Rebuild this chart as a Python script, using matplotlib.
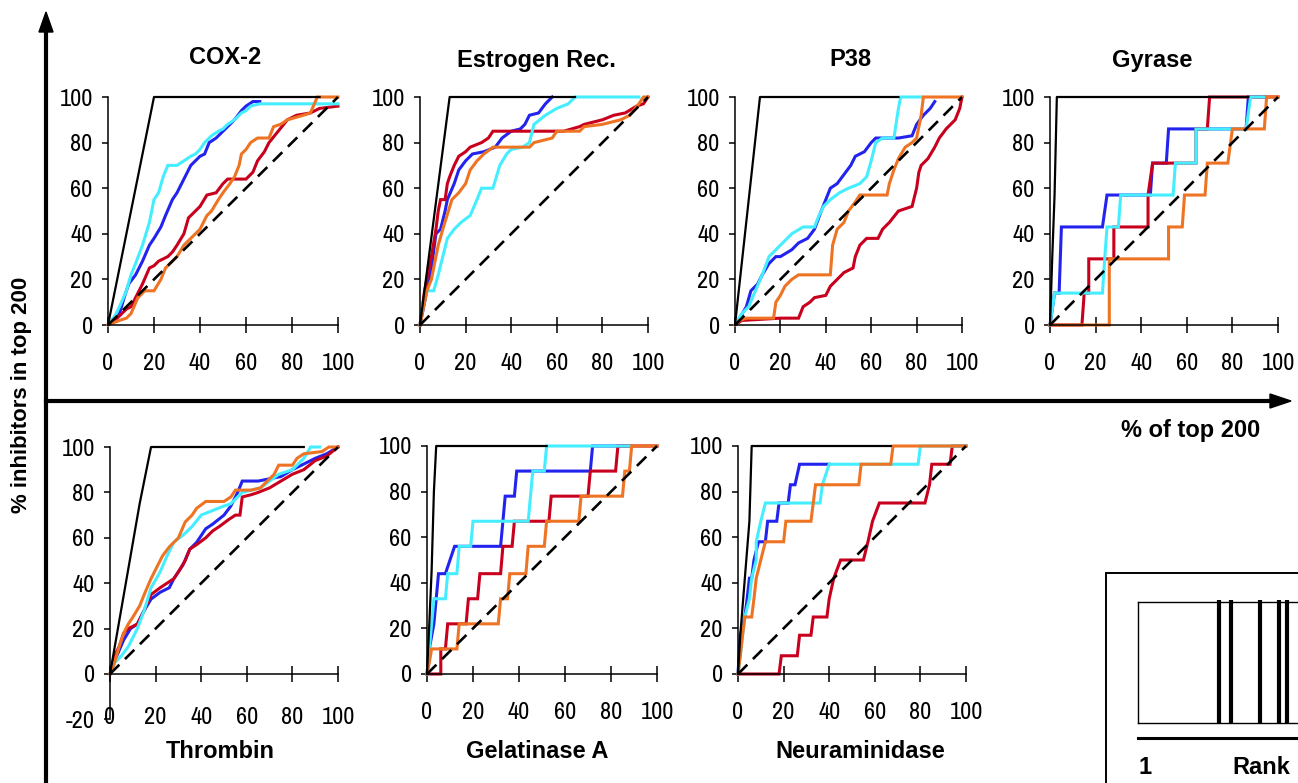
import matplotlib
matplotlib.use("Agg")
import matplotlib.pyplot as plt
from matplotlib import font_manager
from matplotlib.lines import Line2D
from matplotlib.patches import Polygon, Rectangle

## VALUES (x = % of top 200, y = % inhibitors)

cox2_ideal = [(0, 0), (20, 100), (92, 100)]
cox2_blue = [(0, 0), (3, 3), (5, 5), (7, 12), (9, 18), (12, 22), (15, 28), (18, 35), (20, 38), (23, 43),
             (25, 48), (28, 55), (30, 58), (32, 62), (34, 66), (36, 70), (38, 72), (40, 74), (42, 75),
             (44, 80), (47, 82), (50, 85), (53, 88), (55, 90), (58, 94), (60, 96), (63, 98), (66, 98)]
cox2_cyan = [(0, 0), (3, 4), (5, 8), (8, 15), (10, 22), (12, 27), (15, 35), (18, 45), (20, 55), (22, 58),
             (24, 65), (26, 70), (30, 70), (33, 72), (36, 74), (38, 75), (40, 77), (42, 80), (45, 83),
             (48, 85), (50, 86), (52, 88), (55, 90), (58, 93), (60, 94), (62, 96), (66, 97), (100, 97)]
cox2_red = [(0, 0), (4, 3), (8, 7), (10, 8), (12, 12), (15, 18), (18, 25), (20, 26), (22, 28), (26, 30),
            (28, 32), (30, 35), (33, 40), (35, 47), (38, 50), (40, 52), (43, 57), (47, 58), (50, 62),
            (52, 64), (60, 64), (63, 67), (65, 72), (68, 76), (70, 80), (74, 85), (78, 90), (82, 92),
            (88, 93), (92, 95), (100, 96)]
cox2_orange = [(0, 0), (5, 2), (8, 3), (10, 5), (13, 12), (16, 15), (20, 15), (23, 20), (25, 25), (30, 30),
               (33, 35), (36, 38), (40, 42), (43, 48), (45, 50), (48, 55), (50, 58), (53, 62), (55, 65),
               (57, 70), (58, 75), (60, 77), (62, 80), (65, 82), (70, 82), (72, 87), (75, 88), (78, 90),
               (85, 92), (88, 93), (91, 100), (100, 100)]

er_ideal = [(0, 0), (13, 100), (68, 100)]
er_blue = [(0, 0), (3, 15), (5, 25), (7, 40), (9, 42), (11, 50), (12, 55), (15, 62), (17, 68), (20, 72),
           (23, 75), (28, 76), (33, 78), (36, 82), (40, 85), (44, 86), (46, 88), (48, 92), (52, 93),
           (55, 97), (58, 100)]
er_cyan = [(0, 0), (1, 8), (3, 15), (6, 15), (8, 22), (10, 30), (12, 38), (15, 42), (18, 45), (22, 48),
           (25, 55), (27, 60), (32, 60), (35, 70), (38, 75), (40, 77), (45, 78), (48, 80), (50, 88),
           (55, 92), (60, 95), (65, 97), (68, 100), (96, 100)]
er_red = [(0, 0), (2, 15), (5, 30), (7, 42), (8, 50), (9, 55), (11, 55), (12, 62), (13, 65), (15, 70),
          (17, 74), (20, 76), (22, 78), (27, 80), (30, 82), (32, 85), (45, 85), (60, 85), (63, 85),
          (70, 87), (72, 88), (80, 90), (85, 92), (90, 93), (95, 96), (98, 97), (100, 100)]
er_orange = [(0, 0), (3, 15), (5, 20), (8, 35), (10, 42), (14, 55), (17, 58), (20, 62), (22, 68), (25, 72),
             (28, 75), (32, 78), (48, 78), (50, 80), (58, 82), (60, 85), (70, 85), (72, 87), (80, 88),
             (88, 90), (92, 92), (96, 97), (98, 100), (100, 100)]

p38_ideal = [(0, 0), (11, 100), (72, 100)]
p38_blue = [(0, 0), (2, 3), (5, 8), (7, 15), (10, 18), (12, 22), (15, 27), (18, 30), (20, 30), (25, 33),
            (28, 36), (32, 38), (35, 42), (38, 50), (40, 55), (42, 60), (45, 62), (48, 66), (51, 70),
            (53, 74), (57, 76), (60, 80), (62, 82), (72, 82), (78, 83), (80, 88), (83, 92), (86, 95),
            (88, 98)]
p38_cyan = [(0, 0), (3, 5), (6, 8), (9, 15), (12, 22), (15, 30), (20, 35), (23, 38), (25, 40), (30, 43),
            (35, 43), (37, 48), (39, 52), (42, 55), (46, 58), (50, 60), (55, 62), (58, 65), (60, 72),
            (62, 80), (65, 82), (70, 82), (72, 95), (73, 100), (82, 100)]
p38_red = [(0, 0), (3, 2), (20, 3), (28, 3), (30, 8), (33, 10), (35, 12), (40, 13), (42, 17), (45, 20),
           (48, 23), (52, 25), (53, 30), (55, 35), (58, 38), (63, 38), (65, 42), (68, 45), (72, 50),
           (78, 52), (80, 60), (81, 67), (82, 70), (85, 73), (88, 78), (90, 82), (93, 86), (95, 88),
           (97, 90), (99, 95), (100, 100)]
p38_orange = [(0, 0), (2, 2), (5, 3), (17, 3), (18, 10), (20, 13), (22, 17), (25, 20), (28, 22), (42, 22),
              (43, 35), (45, 42), (48, 45), (50, 50), (53, 54), (55, 57), (67, 57), (68, 62), (70, 68),
              (72, 73), (75, 78), (78, 80), (80, 82), (82, 92), (83, 100), (100, 100)]

gy_ideal = [(0, 0), (1, 30), (2, 57), (3, 100), (87, 100)]
gy_blue = [(0, 0), (2, 14), (4, 14), (5, 43), (23, 43), (25, 57), (44, 57), (45, 71), (51, 71), (52, 86),
           (86, 86), (87, 100), (94, 100)]
gy_cyan = [(0, 0), (2, 14), (23, 14), (24, 29), (25, 43), (30, 43), (31, 57), (54, 57), (55, 71), (64, 71),
           (64, 86), (86, 86), (88, 100), (94, 100)]
gy_red = [(0, 0), (14, 0), (15, 14), (17, 14), (17, 29), (28, 29), (28, 43), (43, 43), (43, 57), (45, 71),
          (64, 71), (64, 86), (69, 86), (70, 100), (100, 100)]
gy_orange = [(0, 0), (26, 0), (26, 29), (52, 29), (52, 43), (58, 43), (59, 57), (68, 57), (69, 71), (78, 71),
             (80, 86), (94, 86), (95, 100), (100, 100)]

th_ideal = [(0, 0), (13, 75), (18, 100), (85, 100)]
th_blue = [(0, 0), (3, 8), (6, 15), (9, 20), (12, 22), (15, 28), (18, 33), (22, 36), (26, 38), (28, 42),
           (32, 48), (35, 55), (38, 58), (42, 64), (45, 66), (50, 70), (53, 74), (56, 80), (58, 85),
           (65, 85), (70, 86), (75, 87), (80, 90), (86, 93), (90, 95), (95, 97), (100, 100)]
th_cyan = [(0, 0), (2, 5), (5, 8), (8, 12), (12, 20), (15, 28), (18, 38), (22, 45), (25, 52), (28, 58),
           (33, 62), (36, 65), (40, 70), (45, 72), (50, 74), (53, 75), (58, 80), (62, 81), (66, 82),
           (70, 85), (74, 88), (80, 90), (85, 95), (88, 100), (92, 100)]
th_red = [(0, 0), (2, 8), (4, 12), (6, 18), (8, 20), (12, 22), (15, 28), (18, 35), (22, 38), (25, 40),
          (28, 42), (30, 45), (33, 50), (35, 55), (38, 57), (42, 60), (45, 63), (48, 65), (52, 68),
          (55, 70), (57, 70), (58, 78), (62, 79), (65, 80), (70, 82), (75, 85), (80, 88), (85, 90),
          (90, 94), (95, 96), (100, 100)]
th_orange = [(0, 0), (2, 5), (4, 12), (6, 18), (8, 22), (10, 25), (13, 30), (15, 35), (18, 42), (20, 46),
             (23, 52), (26, 56), (30, 60), (33, 67), (36, 70), (38, 73), (42, 76), (50, 76), (53, 78),
             (55, 81), (62, 81), (66, 82), (68, 84), (72, 88), (74, 92), (80, 92), (82, 95), (85, 97),
             (93, 98), (96, 100), (100, 100)]

ga_ideal = [(0, 0), (1, 22), (2, 45), (3, 80), (4, 100), (52, 100)]
ga_blue = [(0, 0), (1, 11), (3, 22), (4, 33), (5, 44), (8, 44), (10, 50), (12, 56), (32, 56), (33, 67),
           (34, 78), (38, 78), (39, 89), (71, 89), (72, 100), (88, 100)]
ga_cyan = [(0, 0), (1, 11), (3, 33), (8, 33), (9, 44), (13, 44), (14, 56), (19, 56), (20, 67), (44, 67),
           (45, 78), (46, 89), (51, 89), (52, 100), (88, 100)]
ga_red = [(0, 0), (6, 0), (6, 11), (8, 11), (9, 22), (17, 22), (18, 33), (22, 33), (23, 44), (32, 44),
          (33, 56), (37, 56), (38, 67), (53, 67), (54, 78), (70, 78), (71, 89), (82, 89), (83, 100), (100, 100)]
ga_orange = [(0, 0), (1, 5), (2, 11), (13, 11), (14, 22), (31, 22), (32, 33), (35, 33), (36, 44), (43, 44),
             (44, 56), (51, 56), (52, 67), (66, 67), (67, 78), (85, 78), (86, 89), (88, 89), (89, 100), (100, 100)]

nm_ideal = [(0, 0), (1, 17), (3, 42), (5, 67), (6, 100), (67, 100)]
nm_blue = [(0, 0), (1, 17), (3, 25), (4, 33), (5, 42), (6, 42), (7, 50), (9, 58), (12, 58), (13, 67),
           (17, 67), (18, 75), (22, 75), (23, 83), (25, 83), (27, 92), (40, 92)]
nm_cyan = [(0, 0), (1, 8), (2, 17), (3, 25), (5, 33), (6, 42), (8, 50), (8, 58), (10, 67), (12, 75),
           (36, 75), (37, 83), (40, 92), (79, 92), (80, 100), (100, 100)]
nm_red = [(0, 0), (18, 0), (19, 8), (26, 8), (27, 17), (32, 17), (33, 25), (39, 25), (40, 33), (42, 42),
          (45, 50), (55, 50), (57, 58), (59, 67), (62, 75), (82, 75), (84, 83), (85, 92), (93, 92),
          (94, 100), (100, 100)]
nm_orange = [(0, 0), (1, 8), (2, 17), (3, 25), (6, 25), (7, 33), (8, 42), (10, 50), (12, 58), (20, 58),
             (21, 67), (32, 67), (34, 83), (53, 83), (54, 92), (67, 92), (68, 100), (100, 100)]

random_line = [(0, 0), (100, 100)]
ticks = [0, 20, 40, 60, 80, 100]
thrombin_yticks = [-20, 0, 20, 40, 60, 80, 100]
rank_hits = [63, 72, 94, 109, 115]   # barcode positions in the rank inset

## COLOURS / FONTS
BLUE, CYAN, RED, ORANGE = "#2323ee", "#44eeff", "#c8001e", "#ee7424"
plt.rcParams["axes.unicode_minus"] = False

names = sorted({f.name for f in font_manager.fontManager.ttflist})
narrow_cands = [n for n in names if ("Narrow" in n or "Condensed" in n) and "Mono" not in n
                and "Serif" not in n]
bold = "Liberation Sans" if "Liberation Sans" in names else "DejaVu Sans"
if narrow_cands:
    narrow, num_size = narrow_cands[0], 17.5
else:
    narrow, num_size = bold, 15

W, H = 1298, 783
fig = plt.figure(figsize=(W / 100, H / 100), dpi=100)


def fx(x):
    return x / W


def fy(y):
    return 1 - y / H


def panel(x0, x100, y100, y0, curves, ideal, thrombin=False):
    # axes placed from pixel positions of the 0 and 100 marks
    sy = (y0 - y100) / 100.0
    ymin = -20 if thrombin else 0
    bottom = y0 - ymin * sy
    ax = fig.add_axes([fx(x0), fy(bottom), (x100 - x0) / W, (bottom - y100) / H])
    for pts, col in zip(curves, [BLUE, RED, CYAN, ORANGE]):
        ax.plot([p[0] for p in pts], [p[1] for p in pts], color=col, lw=2.2, clip_on=False,
                solid_joinstyle="miter")
    ax.plot([p[0] for p in ideal], [p[1] for p in ideal], color="black", lw=1.6, clip_on=False)
    ax.plot([p[0] for p in random_line], [p[1] for p in random_line], color="black", lw=1.9,
            dashes=(5, 3), clip_on=False)
    ax.set_xlim(0, 100)
    ax.set_ylim(ymin, 100)
    ax.set_xticks(ticks)
    ax.set_yticks(thrombin_yticks if thrombin else ticks)
    ax.spines["top"].set_visible(False)
    ax.spines["right"].set_visible(False)
    for s in ["left", "bottom"]:
        ax.spines[s].set_linewidth(1.1)
    ax.tick_params(axis="y", direction="out", length=4.5, width=1.1, pad=6.5, labelsize=num_size)
    ax.tick_params(axis="x", direction="inout", length=11, width=1.1, pad=15, labelsize=num_size)
    if thrombin:
        ax.spines["bottom"].set_position(("data", 0))
        ax.tick_params(axis="x", pad=18)
    for lab in ax.get_xticklabels() + ax.get_yticklabels():
        lab.set_family(narrow)
    ax.patch.set_alpha(0)
    return ax


panel(108, 338, 97, 325, [cox2_blue, cox2_red, cox2_cyan, cox2_orange], cox2_ideal)
panel(420, 648, 97, 325, [er_blue, er_red, er_cyan, er_orange], er_ideal)
panel(735, 962, 97, 325, [p38_blue, p38_red, p38_cyan, p38_orange], p38_ideal)
panel(1050, 1278, 97, 325, [gy_blue, gy_red, gy_cyan, gy_orange], gy_ideal)
panel(110, 338, 447, 674, [th_blue, th_red, th_cyan, th_orange], th_ideal, thrombin=True)
panel(427, 657, 446, 674, [ga_blue, ga_red, ga_cyan, ga_orange], ga_ideal)
panel(738, 966, 446, 674, [nm_blue, nm_red, nm_cyan, nm_orange], nm_ideal)

# panel names
tkw = dict(fontsize=17, fontweight="bold", family=bold, ha="center", va="center")
fig.text(fx(225), fy(58), "COX-2", **tkw)
fig.text(fx(536), fy(60), "Estrogen Rec.", **tkw)
fig.text(fx(850), fy(60), "P38", **tkw)
fig.text(fx(1152), fy(60), "Gyrase", **tkw)
fig.text(fx(220), fy(752), "Thrombin", **tkw)
fig.text(fx(537), fy(752), "Gelatinase A", **tkw)
fig.text(fx(860), fy(752), "Neuraminidase", **tkw)
fig.text(fx(1191), fy(430), "% of top 200", **tkw)
fig.text(fx(22), fy(395), "% inhibitors in top 200", rotation=90, **dict(tkw, fontsize=16))

# big axis arrows
fig.add_artist(Line2D([fx(46), fx(46)], [fy(790), fy(28)], color="black", lw=3))
fig.add_artist(Polygon([(fx(46), fy(12)), (fx(39), fy(32)), (fx(53), fy(32))], closed=True,
                       color="black", transform=fig.transFigure))
fig.add_artist(Line2D([fx(46), fx(1274)], [fy(401), fy(401)], color="black", lw=3))
fig.add_artist(Polygon([(fx(1291), fy(401)), (fx(1270), fy(394)), (fx(1270), fy(408))], closed=True,
                       color="black", transform=fig.transFigure))

# rank barcode inset (cut by the right edge)
fig.add_artist(Rectangle((fx(1106), fy(800)), fx(300), (800 - 573) / H, fill=False, lw=1.4,
                         edgecolor="black", transform=fig.transFigure))
bx = fig.add_axes([fx(1138), fy(723), fx(260), (723 - 602) / H])
bx.set_xlim(1, 200)
bx.set_ylim(0, 1)
bx.vlines(rank_hits, 0, 1.02, color="black", lw=3, clip_on=False)
bx.set_xticks([])
bx.set_yticks([])
for s in bx.spines.values():
    s.set_linewidth(1.0)
fig.add_artist(Line2D([fx(1138), fx(1400)], [fy(738), fy(738)], color="black", lw=2.2))
fig.text(fx(1138), fy(767), "1", fontsize=17, fontweight="bold", family=bold, ha="left", va="center")
fig.text(fx(1232), fy(767), "Rank", fontsize=17, fontweight="bold", family=bold, ha="left", va="center")

fig.savefig("out.png", dpi=100)
